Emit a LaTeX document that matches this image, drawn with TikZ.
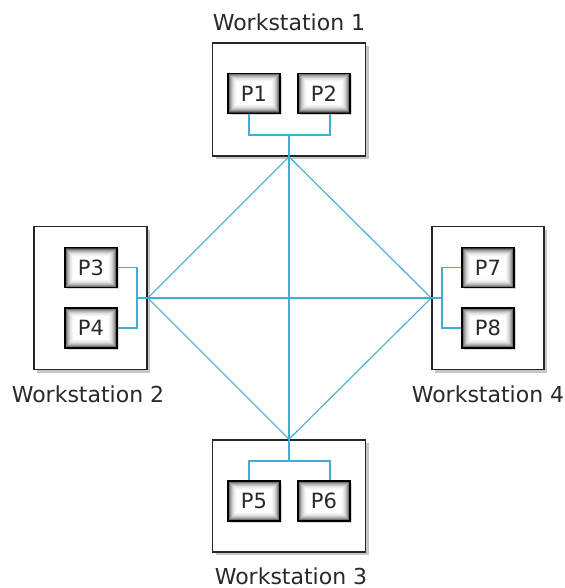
\documentclass[tikz,border=0pt]{standalone}
\usepackage{fontspec}
\setmainfont{DejaVu Sans}
\usetikzlibrary{shadows}
\definecolor{link}{RGB}{60,175,210}
\definecolor{txt}{RGB}{40,40,45}
\tikzset{
  wsbox/.style={draw=black!85, line width=1.6pt, fill=white, drop shadow={shadow xshift=3pt, shadow yshift=-3pt, opacity=0.45}, inner sep=0pt},
  pbox/.style={draw=black, line width=1.3pt, fill=white, minimum width=52pt, minimum height=40pt, inner sep=0pt, font=\fontsize{21}{24}\selectfont, text=txt,
    drop shadow={shadow xshift=1.5pt, shadow yshift=-1.5pt, opacity=0.3},
    path picture={
      \foreach \i/\c in {0/78,1/55,2/40,3/29,4/20,5/13,6/8,7/4,8/1}{
        \fill[black!\c] ([shift={(\i pt,\i pt)}]path picture bounding box.south west) rectangle ([shift={(-\i pt,-\i pt)}]path picture bounding box.north east);
      }
      \fill[white] ([shift={(9pt,9pt)}]path picture bounding box.south west) rectangle ([shift={(-9pt,-9pt)}]path picture bounding box.north east);
    }},
  wslabel/.style={font=\fontsize{22}{26}\selectfont, text=txt},
  link/.style={draw=link, line width=1.1pt}
}
\begin{document}
\begin{tikzpicture}[x=1pt,y=-1pt]
\useasboundingbox (0,0) rectangle (564,588);
% workstation boxes
\node[wsbox, minimum width=153pt, minimum height=113pt] (W1) at (289,99.5) {};
\node[wsbox, minimum width=113pt, minimum height=143pt] (W2) at (90.5,298) {};
\node[wsbox, minimum width=153pt, minimum height=112pt] (W3) at (289,496) {};
\node[wsbox, minimum width=112pt, minimum height=143pt] (W4) at (488,298) {};
% labels
\node[wslabel] (L1) at (289,22) {Workstation 1};
\node[wslabel] (L2) at (88,394) {Workstation 2};
\node[wslabel] (L3) at (291,576) {Workstation 3};
\node[wslabel] (L4) at (488,394) {Workstation 4};
% processors
\node[pbox] (P1) at (254,93.5) {P1};
\node[pbox] (P2) at (324,93.5) {P2};
\node[pbox] (P3) at (91,267.5) {P3};
\node[pbox] (P4) at (91,328) {P4};
\node[pbox] (P5) at (254,501) {P5};
\node[pbox] (P6) at (324,501) {P6};
\node[pbox] (P7) at (488,267.5) {P7};
\node[pbox] (P8) at (488,328) {P8};
% hubs
\coordinate (h1) at (W1.south);
\coordinate (h2) at (W2.east);
\coordinate (h3) at (W3.north);
\coordinate (h4) at (W4.west);
\coordinate (b1) at (289,135);
\coordinate (b2) at (137,298);
\coordinate (b3) at (289,461);
\coordinate (b4) at (442,298);
% internal buses
\draw[link] ([xshift=-5pt]P1.south) |- (b1) -| ([xshift=6pt]P2.south);
\draw[link] (b1) -- (h1);
\draw[link] (P3.east) -| (b2) |- (P4.east);
\draw[link] (b2) -- (h2);
\draw[link] ([xshift=-5pt]P5.north) |- (b3) -| ([xshift=6pt]P6.north);
\draw[link] (b3) -- (h3);
\draw[link] (P7.west) -| (b4) |- (P8.west);
\draw[link] (b4) -- (h4);
% mesh
\draw[link] (h1) -- (h2) -- (h3) -- (h4) -- (h1);
\draw[link] (h1) -- (h3);
\draw[link] (h2) -- (h4);
\end{tikzpicture}
\end{document}
